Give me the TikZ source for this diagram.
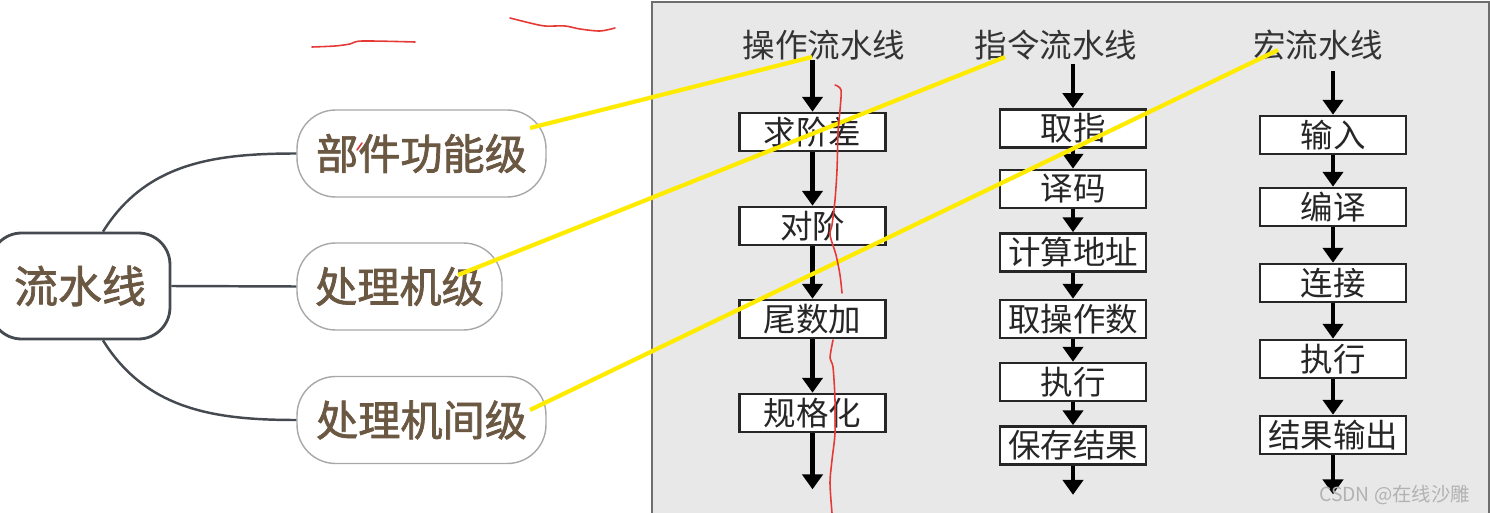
\documentclass[tikz,border=0pt]{standalone}
\usepackage{fontspec}
\setmainfont{Noto Sans CJK SC}
\newfontfamily\mapfont{Noto Sans CJK SC}[FakeBold=1.6]
\usetikzlibrary{arrows.meta,positioning,calc}
\definecolor{maptext}{HTML}{6B5843}
\definecolor{mapline}{HTML}{454A50}
\definecolor{mapedge}{HTML}{A8A8A8}
\definecolor{panelbg}{HTML}{E8E8E8}
\definecolor{paneledge}{HTML}{6E6E6E}
\definecolor{yellowline}{HTML}{FFEB00}
\definecolor{redpen}{HTML}{E53935}
\tikzset{
  hub/.style={draw=mapline, line width=1.6pt, rounded corners=18pt, fill=white, text=maptext,
    font=\mapfont\fontsize{25}{25}\selectfont, minimum width=3.6cm, minimum height=2.12cm, inner sep=0pt},
  branch/.style={draw=mapedge, line width=0.8pt, rounded corners=22pt, fill=white, text=maptext,
    font=\mapfont\fontsize{24}{24}\selectfont, minimum height=1.74cm, inner sep=0pt},
  title/.style={text=black!80, font=\fontsize{18.5}{18.5}\selectfont, inner sep=0pt},
  stage/.style={draw=black!85, line width=1.5pt, fill=white, text=black!85,
    font=\fontsize{18.5}{18.5}\selectfont, minimum width=2.92cm, minimum height=0.76cm, inner sep=0pt},
  flow/.style={-{Triangle[length=8.5pt,width=11.5pt]}, line width=2.5pt},
  link/.style={mapline, line width=1.4pt},
  hilite/.style={yellowline, line width=2.4pt},
  scribble/.style={redpen, line width=0.9pt, line cap=round, line join=round},
}
\begin{document}
\begin{tikzpicture}[x=0.02cm, y=-0.02cm]
\useasboundingbox (0,0) rectangle (1490,513);

% grey panel on the right
\draw[paneledge, fill=panelbg, line width=0.8pt] (652,520) -- (652,2) -- (1489,2) -- (1489,520);

% mind map
\node[hub] (pipe) at (80,286) {流水线};
\node[branch, minimum width=4.98cm] (unit) at (421.5,153.5) {部件功能级};
\node[branch, minimum width=4.1cm] (proc) at (399.5,286.5) {处理机级};
\node[branch, minimum width=4.98cm] (multi) at (421.5,420) {处理机间级};

\draw[link] ($(pipe.north)+(23,0)$) to[out=58,in=180] (unit.west);
\draw[link] (pipe.east) -- (proc.west);
\draw[link] ($(pipe.south)+(23,0)$) to[out=-58,in=180] (multi.west);

% operation pipeline
\node[title] (t1) at (824,45) {操作流水线};
\node[stage] (s11) at (812.5,132) {求阶差};
\node[stage] (s12) at (812.5,226) {对阶};
\node[stage] (s13) at (812.5,319) {尾数加};
\node[stage] (s14) at (812.5,413) {规格化};
\coordinate[below=1.12cm of s14] (end1);

\draw[flow] (s11 |- t1.south) -- (s11);
\draw[flow] (s11) -- (s12);
\draw[flow] (s12) -- (s13);
\draw[flow] (s13) -- (s14);
\draw[flow] (s14) -- (end1);

% instruction pipeline
\node[title] (t2) at (1056,45) {指令流水线};
\node[stage] (s21) at (1073,128.5) {取指};
\node[stage] (s22) at (1073,189) {译码};
\node[stage] (s23) at (1073,252.5) {计算地址};
\node[stage] (s24) at (1073,319) {取操作数};
\node[stage] (s25) at (1073,382) {执行};
\node[stage] (s26) at (1073,445.5) {保存结果};
\coordinate[below=0.58cm of s26] (end2);

\draw[flow] ($(s21 |- t2.south)+(0,4)$) -- (s21);
\draw[flow] (s21) -- (s22);
\draw[flow] (s22) -- (s23);
\draw[flow] (s23) -- (s24);
\draw[flow] (s24) -- (s25);
\draw[flow] (s25) -- (s26);
\draw[flow] (s26) -- (end2);

% macro pipeline
\node[title] (t3) at (1318,45) {宏流水线};
\node[stage] (s31) at (1333,135) {输入};
\node[stage] (s32) at (1333,207) {编译};
\node[stage] (s33) at (1333,283) {连接};
\node[stage] (s34) at (1333,359) {执行};
\node[stage] (s35) at (1333,435) {结果输出};
\coordinate[below=0.78cm of s35] (end3);

\draw[flow] ($(s31 |- t3.south)+(0,11)$) -- (s31);
\draw[flow] (s31) -- (s32);
\draw[flow] (s32) -- (s33);
\draw[flow] (s33) -- (s34);
\draw[flow] (s34) -- (s35);
\draw[flow] (s35) -- (end3);

\node[text=black!30, font=\fontsize{11}{11}\selectfont, anchor=east] (mark) at (1476,495) {CSDN @在线沙雕};

% yellow marks
\coordinate (p1) at (530,128);
\coordinate (q1) at (812,57);
\coordinate (p2) at (458,275);
\coordinate (q2) at (1005,57);
\coordinate (p3) at (530,410);
\coordinate (q3) at (1278,50);
\draw[hilite] (p1) -- (q1);
\draw[hilite] (p2) -- (q2);
\draw[hilite] (p3) -- (q3);

% red pen
\draw[scribble] plot[smooth] coordinates {(312,47) (335,46) (350,44) (362,41) (415,42)};
\draw[scribble] plot[smooth] coordinates {(510,18) (530,23) (545,26) (565,26) (580,29) (600,31) (615,28)};
\draw[scribble] (357,150) -- (362,143);
\draw[scribble] plot[smooth] coordinates {(835,85) (841,90) (840,110) (838,133) (837,170) (835,200) (832,225) (830,235) (836,255) (840,275) (842,293)};
\draw[scribble] plot[smooth] coordinates {(833,340) (830,358) (833,367) (835,400) (835,433) (832,460) (830,483) (832,513)};
\end{tikzpicture}
\end{document}
